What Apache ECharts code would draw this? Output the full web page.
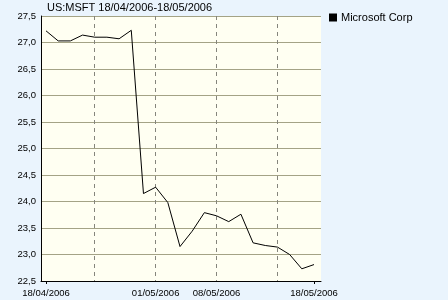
<!DOCTYPE html>
<html>
<head>
<meta charset="utf-8">
<script src="https://cdn.jsdelivr.net/npm/echarts@6/dist/echarts.min.js"></script>
<style>
html,body{margin:0;padding:0;background:#eaf4fd;}
#c{width:448px;height:300px;}
</style>
</head>
<body>
<div id="c"></div>
<script>
var dates = ['18/04/2006','19/04/2006','20/04/2006','21/04/2006','24/04/2006','25/04/2006','26/04/2006','27/04/2006','28/04/2006',
  '01/05/2006','02/05/2006','03/05/2006','04/05/2006','05/05/2006','08/05/2006','09/05/2006','10/05/2006','11/05/2006','12/05/2006',
  '15/05/2006','16/05/2006','17/05/2006','18/05/2006'];
var msft = [27.22,27.03,27.03,27.14,27.10,27.10,27.07,27.23,24.15,
  24.27,23.98,23.15,23.44,23.79,23.73,23.62,23.76,23.22,23.17,
  23.14,23.00,22.73,22.81];
var labelIdx = [0,9,14,22];
var weekIdx = [4,9,14,19];
var tickIdx = [0,22];
var yMin = 22.5, yMax = 27.5, yStep = 0.5;
var seriesName = 'Microsoft Corp';
var titleText = 'US:MSFT 18/04/2006-18/05/2006';

var chart = echarts.init(document.getElementById('c'), null, {renderer:'canvas'});
var font = 'Liberation Sans, Arial, sans-serif';
chart.setOption({
  backgroundColor: '#eaf4fd',
  animation: false,
  title: {text: titleText, left: 47, top: 1, padding: 0,
    textStyle: {fontSize: 11, fontWeight: 'normal', color: '#000', fontFamily: font, lineHeight: 13}},
  legend: {left: 329, top: 12, padding: 0, itemWidth: 8, itemHeight: 8, icon: 'rect', itemGap: 4,
    textStyle: {fontSize: 11, color: '#000', fontFamily: font, padding:[0,0,0,-1]},
    data: [seriesName]},
  grid: [
    {left: 41, top: 16, width: 280, height: 265, show: true, backgroundColor: '#fffff2', borderWidth: 0},
    {left: 46, top: 16, width: 268, height: 265, show: false}
  ],
  xAxis: [
    {gridIndex: 0, type: 'value', min: 0, max: 1, axisLine: {show: true, lineStyle: {color: '#000', width: 1}},
      axisTick: {show: false}, axisLabel: {show: false}, splitLine: {show: false}},
    {gridIndex: 1, type: 'category', boundaryGap: false, data: dates,
      axisLine: {show: false},
      axisTick: {show: true, interval: function(i){return tickIdx.indexOf(i) >= 0;}, length: 3, lineStyle: {color: '#000'}},
      axisLabel: {interval: function(i){return labelIdx.indexOf(i) >= 0;}, fontSize: 9.5, color: '#000', fontFamily: font, margin: 7},
      splitLine: {show: true, interval: function(i){return weekIdx.indexOf(i) >= 0;}, lineStyle: {color: '#85857c', type: [4,4], width: 1}}}
  ],
  yAxis: [
    {gridIndex: 0, type: 'value', min: yMin, max: yMax, interval: yStep,
      axisLine: {show: true, lineStyle: {color: '#000', width: 1}}, axisTick: {show: false},
      axisLabel: {fontSize: 9.5, color: '#000', fontFamily: font, margin: 5,
        formatter: function(v){return v.toFixed(1).replace('.', ',');}},
      splitLine: {show: true, lineStyle: {color: '#a4a386', width: 1}}},
    {gridIndex: 1, type: 'value', min: yMin, max: yMax, interval: yStep, show: false,
      splitLine: {show: false}}
  ],
  series: [{
    name: seriesName, type: 'line', xAxisIndex: 1, yAxisIndex: 1, data: msft,
    showSymbol: false, symbol: 'none', lineStyle: {color: '#000', width: 1}, itemStyle: {color: '#000'}
  }]
});
</script>
</body>
</html>
